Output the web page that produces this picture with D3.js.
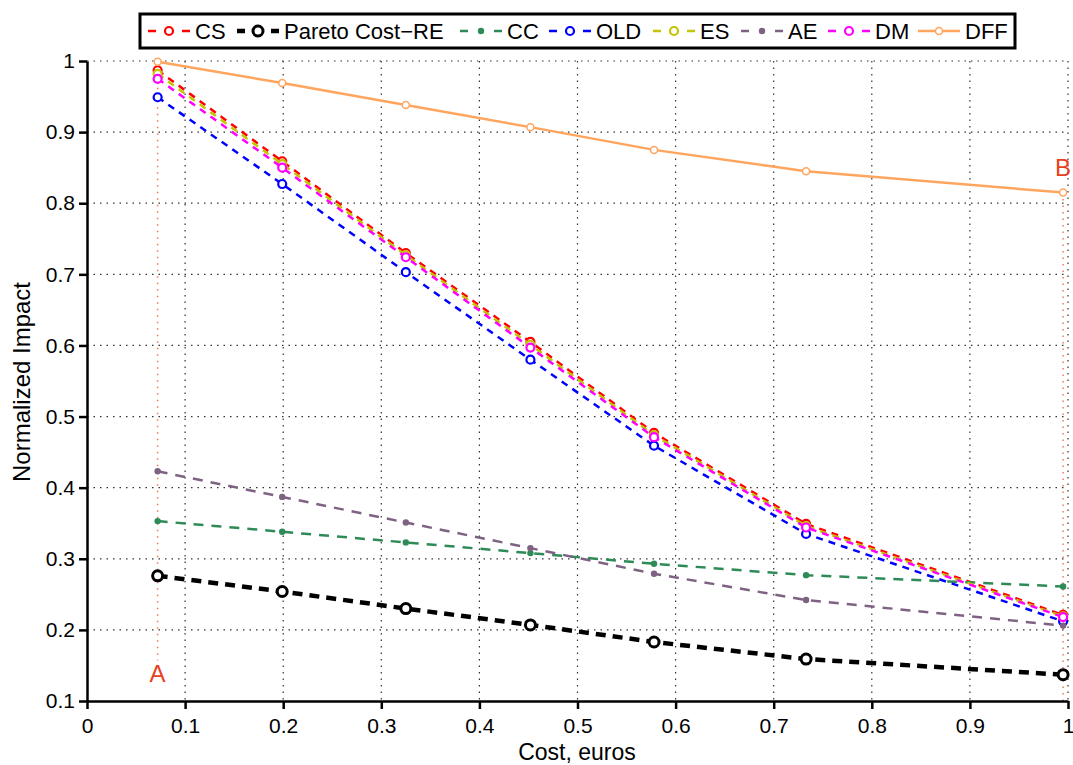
<!DOCTYPE html>
<html>
  <head>
    <meta charset="utf-8">
    <title>Normalized impact vs cost</title>
    <script src="https://cdn.jsdelivr.net/npm/d3@7"></script>
    <style>
      body { margin: 0; background: #fff; }
      svg { font-family: "Liberation Sans", Arial, sans-serif; }
      .axis path, .axis line { stroke: #000; stroke-width: 2.5; }
      .axis text { font-size: 21px; fill: #000; font-family: "Liberation Sans", Arial, sans-serif; }
      .grid line { stroke: #333; stroke-width: 1.2; stroke-dasharray: 1.5,5; }
    </style>
  </head>
  <body>
    <svg id="chart" width="1073" height="765"></svg>
    <script>
      // data
      const costs = [0.072, 0.199, 0.325, 0.452, 0.578, 0.733, 0.995];
      const csImpact = [0.987, 0.859, 0.730, 0.605, 0.477, 0.349, 0.221];
      const paretoImpact = [0.276, 0.254, 0.230, 0.207, 0.183, 0.159, 0.137];
      const ccImpact = [0.353, 0.338, 0.323, 0.308, 0.293, 0.277, 0.261];
      const oldImpact = [0.949, 0.827, 0.703, 0.580, 0.459, 0.335, 0.212];
      const esImpact = [0.982, 0.855, 0.727, 0.601, 0.474, 0.346, 0.219];
      const aeImpact = [0.423, 0.387, 0.351, 0.315, 0.279, 0.242, 0.206];
      const dmImpact = [0.975, 0.850, 0.724, 0.597, 0.471, 0.344, 0.218];
      const dffImpact = [0.999, 0.969, 0.938, 0.907, 0.875, 0.845, 0.815];
      const seriesNames = ["CS", "Pareto Cost\u2212RE", "CC", "OLD", "ES", "AE", "DM", "DFF"];
      const xTickValues = [0, 0.1, 0.2, 0.3, 0.4, 0.5, 0.6, 0.7, 0.8, 0.9, 1];
      const yTickValues = [0.1, 0.2, 0.3, 0.4, 0.5, 0.6, 0.7, 0.8, 0.9, 1];
      // annotation lines A and B: [cost, from, to]
      const markA = [0.072, 0.999, 0.157];
      const markB = [0.995, 0.815, 0.1];

      // styles
      const styles = [
        { color: "#ff0000", width: 2.5, dash: "7,6", r: 4, sw: 2.2, fill: "#fff" },
        { color: "#000000", width: 4.5, dash: "10,7", r: 5, sw: 3, fill: "#fff" },
        { color: "#2e8b57", width: 2.5, dash: "10,8", r: 3.2, sw: 0, fill: "#2e8b57" },
        { color: "#0000ff", width: 2.5, dash: "7,6", r: 4, sw: 2.2, fill: "#fff" },
        { color: "#c4c400", width: 2.5, dash: "7,6", r: 4, sw: 2.2, fill: "#fff" },
        { color: "#7e6282", width: 2.5, dash: "10,8", r: 3.2, sw: 0, fill: "#7e6282" },
        { color: "#ff00ff", width: 2.5, dash: "7,6", r: 4, sw: 2.2, fill: "#fff" },
        { color: "#ffa55e", width: 2.5, dash: null, r: 3.5, sw: 1.5, fill: "#fff" }
      ];
      const series = [csImpact, paretoImpact, ccImpact, oldImpact, esImpact, aeImpact, dmImpact, dffImpact]
        .map(function(vals, i) {
          return { name: seriesNames[i], style: styles[i],
            points: vals.map(function(v, j) { return { x: costs[j], y: v }; }) };
        });

      const svg = d3.select("#chart");
      const x = d3.scaleLinear().domain([0, 1]).range([87, 1068]);
      const y = d3.scaleLinear().domain([0.1, 1]).range([701, 61]);

      // grid
      const grid = svg.append("g").attr("class", "grid");
      grid.selectAll(".v").data(xTickValues.slice(1)).enter().append("line")
        .attr("x1", function(d) { return x(d); }).attr("x2", function(d) { return x(d); })
        .attr("y1", y(1)).attr("y2", y(0.1));
      grid.selectAll(".h").data(yTickValues.slice(1)).enter().append("line")
        .attr("x1", x(0)).attr("x2", x(1))
        .attr("y1", function(d) { return y(d); }).attr("y2", function(d) { return y(d); });

      // A / B markers
      const markColor = "#e8401c";
      [markA, markB].forEach(function(m) {
        svg.append("line")
          .attr("x1", x(m[0])).attr("x2", x(m[0]))
          .attr("y1", y(m[1])).attr("y2", y(m[2]))
          .attr("stroke", "#f07a5a").attr("stroke-width", 1.5)
          .attr("stroke-dasharray", "1.5,5");
      });
      svg.append("text").attr("x", x(markA[0])).attr("y", 682)
        .attr("text-anchor", "middle").attr("font-size", 24).attr("fill", markColor).text("A");
      svg.append("text").attr("x", x(markB[0])).attr("y", 176)
        .attr("text-anchor", "middle").attr("font-size", 24).attr("fill", markColor).text("B");

      // series
      const line = d3.line().x(function(d) { return x(d.x); }).y(function(d) { return y(d.y); });
      const groups = svg.selectAll(".series").data(series).enter().append("g").attr("class", "series");
      groups.append("path")
        .attr("d", function(d) { return line(d.points); })
        .attr("fill", "none")
        .attr("stroke", function(d) { return d.style.color; })
        .attr("stroke-width", function(d) { return d.style.width; })
        .attr("stroke-dasharray", function(d) { return d.style.dash; });
      groups.each(function(s) {
        d3.select(this).selectAll("circle").data(s.points).enter().append("circle")
          .attr("cx", function(d) { return x(d.x); })
          .attr("cy", function(d) { return y(d.y); })
          .attr("r", s.style.r)
          .attr("fill", s.style.fill)
          .attr("stroke", s.style.color)
          .attr("stroke-width", s.style.sw);
      });

      // axes
      const xAxis = d3.axisBottom(x).tickValues(xTickValues).tickFormat(d3.format("")).tickSizeInner(8).tickSizeOuter(0).tickPadding(9);
      const yAxis = d3.axisLeft(y).tickValues(yTickValues).tickFormat(d3.format("")).tickSizeInner(8).tickSizeOuter(0).tickPadding(4);
      svg.append("g").attr("class", "axis").attr("transform", "translate(0," + y(0.1) + ")").call(xAxis);
      svg.append("g").attr("class", "axis").attr("transform", "translate(" + x(0) + ",0)").call(yAxis);

      svg.append("text").attr("x", 577).attr("y", 760).attr("text-anchor", "middle")
        .attr("font-size", 23).text("Cost, euros");
      svg.append("text").attr("transform", "translate(30,382) rotate(-90)").attr("text-anchor", "middle")
        .attr("font-size", 24).text("Normalized Impact");

      // legend
      const legendX = [148, 237, 460, 549, 653, 741, 828, 918];
      const legend = svg.append("g");
      legend.append("rect").attr("x", 140).attr("y", 14).attr("width", 875).attr("height", 34)
        .attr("fill", "#fff").attr("stroke", "#000").attr("stroke-width", 3);
      series.forEach(function(s, i) {
        const lx = legendX[i], ly = 31;
        legend.append("line").attr("x1", lx).attr("x2", lx + 42).attr("y1", ly).attr("y2", ly)
          .attr("stroke", s.style.color).attr("stroke-width", s.style.width)
          .attr("stroke-dasharray", s.style.dash ? "8,26" : null);
        legend.append("circle").attr("cx", lx + 21).attr("cy", ly).attr("r", s.style.r)
          .attr("fill", s.style.fill).attr("stroke", s.style.color).attr("stroke-width", s.style.sw);
        legend.append("text").attr("x", lx + 47).attr("y", ly + 8).attr("font-size", 22).text(s.name);
      });
    </script>
  </body>
</html>
